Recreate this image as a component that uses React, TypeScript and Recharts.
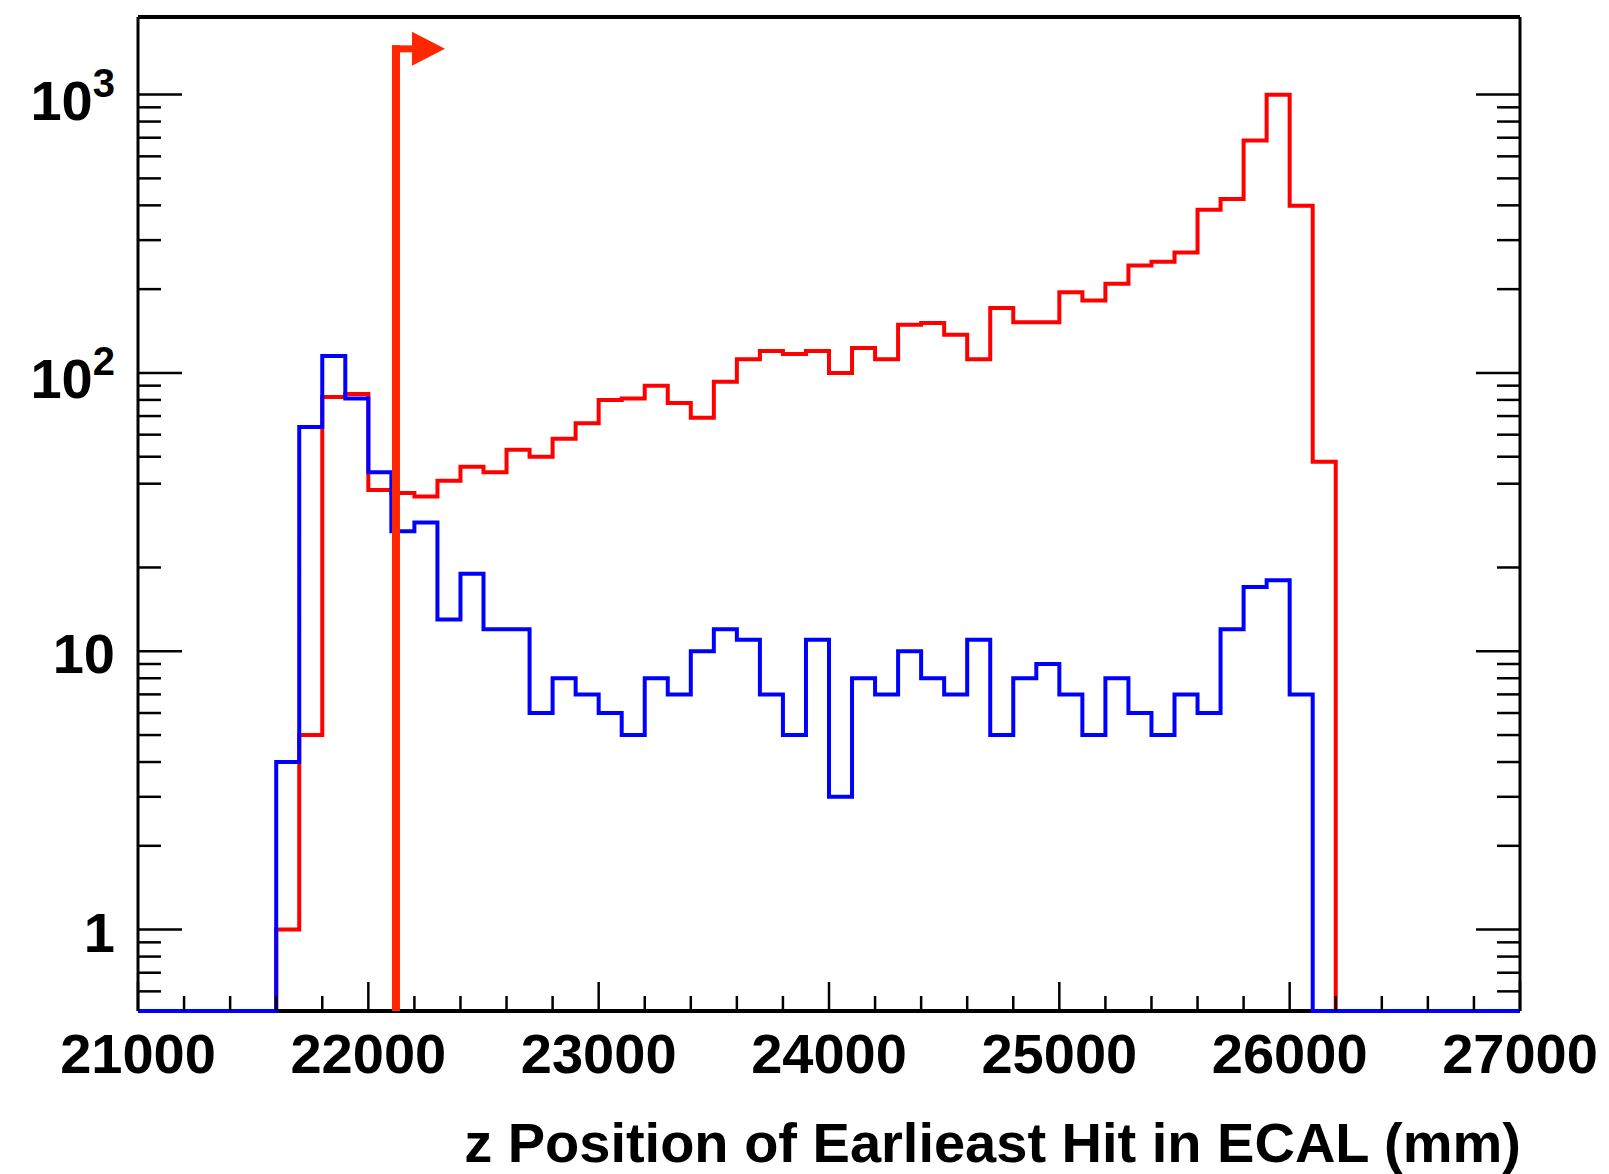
import React from 'react';
import { LineChart, Line, XAxis, YAxis, ReferenceLine } from 'recharts';

// z bin edges (mm), 100 mm bins
const BIN_EDGES = [
  21000, 21100, 21200, 21300, 21400, 21500, 21600, 21700, 21800, 21900,
  22000, 22100, 22200, 22300, 22400, 22500, 22600, 22700, 22800, 22900,
  23000, 23100, 23200, 23300, 23400, 23500, 23600, 23700, 23800, 23900,
  24000, 24100, 24200, 24300, 24400, 24500, 24600, 24700, 24800, 24900,
  25000, 25100, 25200, 25300, 25400, 25500, 25600, 25700, 25800, 25900,
  26000, 26100, 26200, 26300, 26400, 26500, 26600, 26700, 26800, 26900,
  27000,
];

// red histogram, one count per bin
const RED_COUNTS = [
  0, 0, 0, 0, 0, 0, 1, 5, 82, 84,
  38, 37, 36, 41, 46, 44, 53, 50, 58, 66,
  80, 81, 90, 78, 69, 93, 112, 120, 117, 120,
  100, 123, 112, 149, 151, 137, 112, 171, 152, 152,
  195, 182, 209, 243, 251, 271, 386, 422, 684, 998,
  399, 48, 0, 0, 0, 0, 0, 0, 0, 0,
];

// blue histogram
const BLUE_COUNTS = [
  0, 0, 0, 0, 0, 0, 4, 64, 115, 81,
  44, 27, 29, 13, 19, 12, 12, 6, 8, 7,
  6, 5, 8, 7, 10, 12, 11, 7, 5, 11,
  3, 8, 7, 10, 8, 7, 11, 5, 8, 9,
  7, 5, 8, 6, 5, 7, 6, 12, 17, 18,
  7, 0, 0, 0, 0, 0, 0, 0, 0, 0,
];

const X_RANGE = [21000, 27000];
const X_TICKS = [
  21000, 21200, 21400, 21600, 21800, 22000, 22200, 22400, 22600, 22800,
  23000, 23200, 23400, 23600, 23800, 24000, 24200, 24400, 24600, 24800,
  25000, 25200, 25400, 25600, 25800, 26000, 26200, 26400, 26600, 26800,
  27000,
];
const X_LABELS = [21000, 22000, 23000, 24000, 25000, 26000, 27000];

const Y_RANGE = [0.51, 1900];
const Y_TICKS = [
  0.6, 0.7, 0.8, 0.9, 1, 2, 3, 4, 5, 6, 7, 8, 9,
  10, 20, 40, 50, 60, 70, 80, 90,
  100, 200, 300, 400, 500, 600, 700, 800, 900, 1000,
];
const Y_LABELS: Record<number, [string, string]> = {
  1: ['1', ''],
  10: ['10', ''],
  100: ['10', '2'],
  1000: ['10', '3'],
};

const CUT_Z = 22120;
const CUT_ARROW_AT = 1460;

const X_TITLE = 'z Position of Earlieast Hit in ECAL (mm)';

const FONT = '"Liberation Sans", Arial, Helvetica, sans-serif';
const RED = '#ff0000';
const BLUE = '#0000ff';
const CUT_COLOR = '#ff2600';

// empty bins sit on the bottom of the frame, as ROOT draws them on a log axis
const floor = (v: number) => (v > 0 ? v : Y_RANGE[0]);

const data = BIN_EDGES.map((z, i) => {
  const k = Math.min(i, RED_COUNTS.length - 1);
  return { z, red: floor(RED_COUNTS[k]), blue: floor(BLUE_COUNTS[k]) };
});

const LeftTick = ({ x, y, payload }: any) => {
  const v = payload.value;
  const label = Y_LABELS[v];
  return (
    <g>
      <line x1={x} x2={x + (label ? 44 : 23)} y1={y} y2={y} stroke="#000" strokeWidth={2.5} />
      {label && (
        <text
          x={x - 23}
          y={y + (label[1] ? 25 : 22)}
          textAnchor="end"
          fontFamily={FONT}
          fontWeight="bold"
          fontSize={56}
          fill="#000"
        >
          {label[0]}
          {label[1] && (
            <tspan dy={-23} fontSize={40}>
              {label[1]}
            </tspan>
          )}
        </text>
      )}
    </g>
  );
};

const RightTick = ({ x, y, payload }: any) => {
  const major = Y_LABELS[payload.value] != null;
  return <line x1={x} x2={x - (major ? 44 : 23)} y1={y} y2={y} stroke="#000" strokeWidth={2.5} />;
};

const BottomTick = ({ x, y, payload }: any) => {
  const major = X_LABELS.includes(payload.value);
  return (
    <g>
      <line x1={x} x2={x} y1={y} y2={y - (major ? 29 : 15)} stroke="#000" strokeWidth={2.5} />
      {major && (
        <text x={x} y={y + 62} textAnchor="middle" fontFamily={FONT} fontWeight="bold" fontSize={56} fill="#000">
          {payload.value}
        </text>
      )}
    </g>
  );
};

const TopTick = ({ x, y, payload }: any) => {
  const major = X_LABELS.includes(payload.value);
  return <line x1={x} x2={x} y1={y} y2={y + (major ? 29 : 15)} stroke="#000" strokeWidth={2.5} />;
};

// vertical cut line with the arrow pointing to the accepted side
const CutMarker = (props: any) => {
  const { x1, y1, y2 } = props;
  const top = Math.min(y1, y2);
  const bottom = Math.max(y1, y2);
  return (
    <g>
      <line x1={x1} x2={x1} y1={bottom} y2={top - 3.5} stroke={CUT_COLOR} strokeWidth={8} />
      <line x1={x1 - 4} x2={x1 + 18} y1={top} y2={top} stroke={CUT_COLOR} strokeWidth={7} />
      <polygon points={`${x1 + 16},${top - 17} ${x1 + 49},${top} ${x1 + 16},${top + 17}`} fill={CUT_COLOR} />
    </g>
  );
};

export default function App() {
  return (
    <div style={{ position: 'absolute', left: 0, top: 0, width: 1609, height: 1174, background: '#fff' }}>
      <LineChart width={1609} height={1174} data={data} margin={{ top: 17, right: 89, bottom: 163, left: 138 }}>
        <XAxis
          xAxisId="bottom"
          dataKey="z"
          type="number"
          domain={X_RANGE}
          ticks={X_TICKS}
          interval={0}
          mirror
          tickSize={0}
          tickMargin={0}
          tickLine={false}
          tick={BottomTick}
          axisLine={{ stroke: '#000', strokeWidth: 4 }}
        />
        <XAxis
          xAxisId="top"
          orientation="top"
          type="number"
          domain={X_RANGE}
          allowDataOverflow
          ticks={X_TICKS}
          interval={0}
          mirror
          tickSize={0}
          tickMargin={0}
          tickLine={false}
          tick={TopTick}
          axisLine={{ stroke: '#000', strokeWidth: 4 }}
        />
        <YAxis
          yAxisId="left"
          type="number"
          scale="log"
          domain={Y_RANGE}
          ticks={Y_TICKS}
          interval={0}
          mirror
          tickSize={0}
          tickMargin={0}
          tickLine={false}
          tick={LeftTick}
          axisLine={{ stroke: '#000', strokeWidth: 3 }}
        />
        <YAxis
          yAxisId="right"
          orientation="right"
          type="number"
          scale="log"
          domain={Y_RANGE}
          allowDataOverflow
          ticks={Y_TICKS}
          interval={0}
          mirror
          tickSize={0}
          tickMargin={0}
          tickLine={false}
          tick={RightTick}
          axisLine={{ stroke: '#000', strokeWidth: 3 }}
        />
        <Line
          xAxisId="bottom"
          yAxisId="left"
          type="stepAfter"
          dataKey="red"
          stroke={RED}
          strokeWidth={4}
          dot={false}
          activeDot={false}
          isAnimationActive={false}
          zIndex={600}
        />
        <Line
          xAxisId="bottom"
          yAxisId="left"
          type="stepAfter"
          dataKey="blue"
          stroke={BLUE}
          strokeWidth={4}
          dot={false}
          activeDot={false}
          isAnimationActive={false}
          zIndex={610}
        />
        <ReferenceLine
          xAxisId="bottom"
          yAxisId="left"
          segment={[
            { x: CUT_Z, y: Y_RANGE[0] },
            { x: CUT_Z, y: CUT_ARROW_AT },
          ]}
          ifOverflow="visible"
          shape={CutMarker}
          zIndex={620}
        />
      </LineChart>
      <div
        style={{
          position: 'absolute',
          right: 1609 - 1521,
          top: 1163 - 52,
          fontFamily: FONT,
          fontWeight: 'bold',
          fontSize: 56,
          lineHeight: '64px',
          whiteSpace: 'nowrap',
          color: '#000',
        }}
      >
        {X_TITLE}
      </div>
    </div>
  );
}
